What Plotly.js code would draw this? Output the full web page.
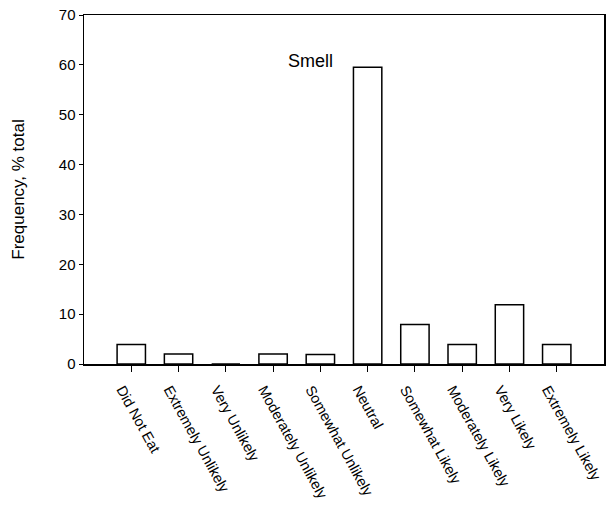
<!DOCTYPE html>
<html>
<head>
<meta charset="utf-8">
<script src="https://cdn.plot.ly/plotly-3.0.1.min.js"></script>
<style>html,body{margin:0;padding:0;background:#fff;}#chart{width:608px;height:514px;}</style>
</head>
<body>
<div id="chart"></div>
<script>
const categories = ["Did Not Eat", "Extremely Unlikely", "Very Unlikely", "Moderately Unlikely", "Somewhat Unlikely", "Neutral", "Somewhat Likely", "Moderately Likely", "Very Likely", "Extremely Likely"];
const frequency = [3.9, 2.0, 0, 2.0, 1.9, 59.5, 7.9, 3.9, 11.9, 3.9];
const yTicks = [0, 10, 20, 30, 40, 50, 60, 70];
const chartTitle = "Smell";
const yTitle = "Frequency, % total";

const idx = categories.map((c, i) => i);

const trace = {
  type: "bar",
  x: idx,
  y: frequency,
  width: 0.6,
  marker: {color: "#ffffff", line: {color: "#000000", width: 1.5}},
  hoverinfo: "skip"
};

const layout = {
  width: 608, height: 514,
  margin: {l: 84, r: 4, t: 15, b: 150},
  paper_bgcolor: "#ffffff", plot_bgcolor: "#ffffff",
  font: {family: "Liberation Sans, Arial, sans-serif", color: "#000000", size: 15},
  showlegend: false,
  xaxis: {
    range: [-1, 10],
    tickmode: "array", tickvals: idx, ticktext: categories,
    tickangle: 61,
    ticks: "outside", ticklen: 6, tickcolor: "#000", tickwidth: 1,
    showline: true, linecolor: "#000", linewidth: 1.5, mirror: true,
    showgrid: false, zeroline: false,
    ticklabeloverflow: "allow",
    ticklabelshift: -9,
    ticklabelstandoff: 4,
    automargin: false,
    tickfont: {size: 14.5}
  },
  yaxis: {
    range: [0, 70],
    tickmode: "array", tickvals: yTicks,
    ticks: "outside", ticklen: 4, tickcolor: "#000", tickwidth: 1,
    showline: true, linecolor: "#000", linewidth: 1.5, mirror: true,
    showgrid: false, zeroline: false,
    automargin: false,
    tickfont: {size: 15},
    title: {text: yTitle, font: {size: 17}, standoff: 30}
  },
  annotations: [{
    text: chartTitle, xref: "paper", yref: "y", x: 0.436, y: 60.8,
    showarrow: false, font: {size: 18}, xanchor: "center", yanchor: "middle"
  }]
};

Plotly.newPlot("chart", [trace], layout, {displayModeBar: false, staticPlot: true});
</script>
</body>
</html>
